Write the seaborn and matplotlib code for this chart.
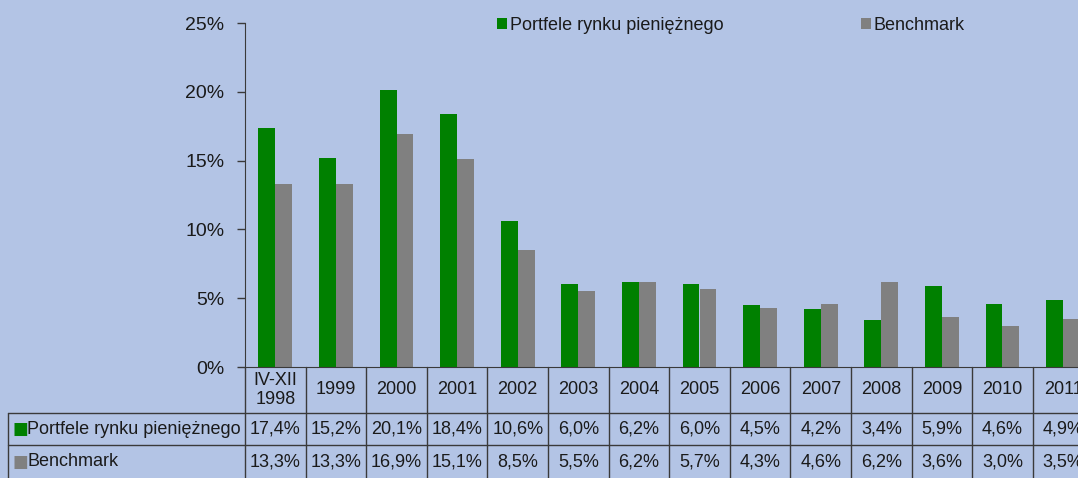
import numpy as np
import pandas as pd
import matplotlib
matplotlib.use('Agg')
import matplotlib.pyplot as plt
import matplotlib.transforms as mtransforms
import seaborn as sns

periods = ['IV-XII\n1998', '1999', '2000', '2001', '2002', '2003', '2004',
           '2005', '2006', '2007', '2008', '2009', '2010', '2011']
portfolio = [17.4, 15.2, 20.1, 18.4, 10.6, 6.0, 6.2, 6.0, 4.5, 4.2, 3.4, 5.9, 4.6, 4.9]
benchmark = [13.3, 13.3, 16.9, 15.1, 8.5, 5.5, 6.2, 5.7, 4.3, 4.6, 6.2, 3.6, 3.0, 3.5]
series_names = ['Portfele rynku pieniężnego', 'Benchmark']
colors = ['#008000', '#808080']
yticks = [0, 5, 10, 15, 20, 25]

bg = '#B3C4E5'
line_col = '#3a3a3a'
txt_col = '#1a1a1a'

sns.set_style('ticks')
plt.rcParams['font.family'] = ['Liberation Sans', 'DejaVu Sans']

df = pd.DataFrame({'period': periods * 2,
                   'value': portfolio + benchmark,
                   'series': [series_names[0]] * len(periods) + [series_names[1]] * len(periods)})

W, H = 1078, 478
fig = plt.figure(figsize=(W / 100, H / 100), dpi=100)
fig.patch.set_facecolor(bg)
col_w = 60.6
ax = fig.add_axes([245 / W, 111 / H, col_w * len(periods) / W, 344 / H])
ax.set_facecolor(bg)

sns.barplot(data=df, x='period', y='value', hue='series', palette=colors,
            width=0.56, saturation=1, ax=ax, legend=True,
            edgecolor='none', linewidth=0)

ax.set_xlim(-0.5, len(periods) - 0.5)
ax.set_ylim(0, 25)
ax.set_yticks(yticks)
ax.set_yticklabels([f'{t}%' for t in yticks])
ax.set_xticks([])
ax.set_xlabel('')
ax.set_ylabel('')
ax.tick_params(axis='y', length=6, width=1, color=line_col, labelsize=14,
               labelcolor=txt_col, pad=9)
sns.despine(ax=ax, top=True, right=True)
ax.spines['left'].set_color(line_col)
ax.spines['bottom'].set_color(line_col)

# legend on top
handles, labels = ax.get_legend_handles_labels()
ax.legend_.remove()
fig.legend(handles, labels, ncol=2, loc='upper left',
           bbox_to_anchor=(481 / W, 1 - 1 / H), frameon=False,
           handlelength=0.55, handleheight=0.55, handletextpad=0.15,
           columnspacing=7.6, fontsize=13, labelcolor=txt_col)

# data table under the axis (bottom edge runs off the picture)
trans = mtransforms.blended_transform_factory(ax.transData, ax.transAxes)
y0, y1, y2, y3 = 0, -46 / 344, -78 / 344, -114 / 344
left_x = -0.5 - 237 / col_w
right_x = len(periods) + 0.5
n = len(periods)

for i in range(n + 1):
    ax.plot([i - 0.5, i - 0.5], [y0, y3], transform=trans, clip_on=False,
            color=line_col, lw=1)
for yy in (y1, y2):
    ax.plot([left_x, right_x], [yy, yy], transform=trans, clip_on=False,
            color=line_col, lw=1)
ax.plot([left_x, left_x], [y1, y3], transform=trans, clip_on=False,
        color=line_col, lw=1)

for i, p in enumerate(periods):
    ax.text(i, (y0 + y1) / 2, p, transform=trans, ha='center', va='center',
            fontsize=13, color=txt_col, linespacing=1.1)

rows = [(series_names[0], portfolio, colors[0], (y1 + y2) / 2),
        (series_names[1], benchmark, colors[1], -95 / 344)]
for name, vals, c, ym in rows:
    ax.text(left_x, ym, '■', transform=mtransforms.offset_copy(trans, fig, x=4, y=0, units='dots'),
            ha='left', va='center', fontsize=12, color=c,
            family=['DejaVu Sans'])
    ax.text(left_x, ym, name, transform=mtransforms.offset_copy(trans, fig, x=19, y=0, units='dots'),
            ha='left', va='center', fontsize=13, color=txt_col)
    for i, v in enumerate(vals):
        ax.text(i, ym, f'{v:.1f}%'.replace('.', ','), transform=trans,
                ha='center', va='center', fontsize=13, color=txt_col)

fig.savefig('out.png', dpi=100, facecolor=bg)
